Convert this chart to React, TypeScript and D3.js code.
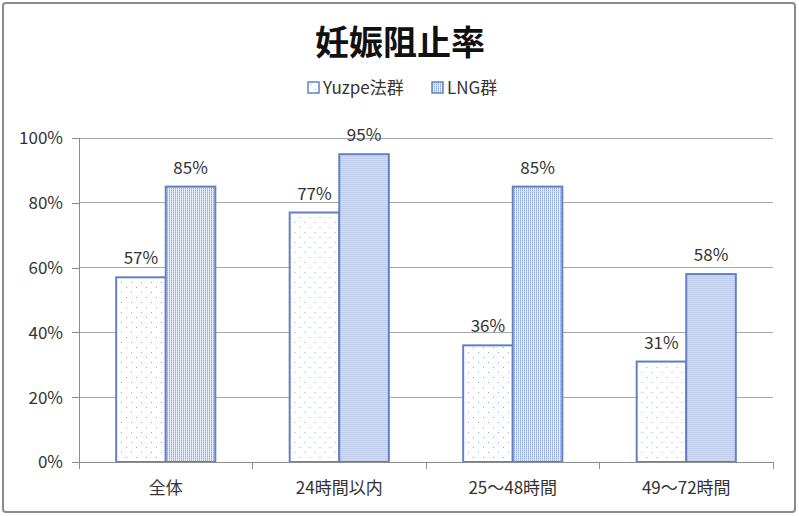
import React, { useEffect, useRef } from "react";
import * as d3 from "d3";

const categories = ["全体", "24時間以内", "25～48時間", "49～72時間"];
const seriesNames = ["Yuzpe法群", "LNG群"];
const yuzpeValues = [57, 77, 36, 31];
const lngValues = [85, 95, 85, 58];
const yTicks = [0, 20, 40, 60, 80, 100];

const FONT = "'Noto Sans CJK JP', 'Noto Sans', sans-serif";
const STROKE = "#6281c4";

const App: React.FC = () => {
  const ref = useRef<SVGSVGElement>(null);

  useEffect(() => {
    if (!ref.current) return;
    const svg = d3.select(ref.current);
    svg.selectAll("*").remove();

    const width = 799;
    const height = 516;
    const plot = { left: 79, right: 773, top: 138, bottom: 462 };

    const defs = svg.append("defs");
    // sparse dots for Yuzpe
    const p1 = defs.append("pattern").attr("id", "pat-yuzpe")
      .attr("patternUnits", "userSpaceOnUse").attr("width", 10).attr("height", 10);
    p1.append("rect").attr("width", 10).attr("height", 10).attr("fill", "#ffffff");
    p1.append("rect").attr("x", 2).attr("y", 2).attr("width", 1).attr("height", 1).attr("fill", "#8ea5d8");
    p1.append("rect").attr("x", 7).attr("y", 7).attr("width", 1).attr("height", 1).attr("fill", "#8ea5d8");
    // dense vertical stripes for LNG
    const p2 = defs.append("pattern").attr("id", "pat-lng")
      .attr("patternUnits", "userSpaceOnUse").attr("width", 2).attr("height", 2);
    p2.append("rect").attr("width", 2).attr("height", 2).attr("fill", "#e8eef8");
    p2.append("rect").attr("x", 0).attr("y", 0).attr("width", 1).attr("height", 1).attr("fill", "#95abdc");
    p2.append("rect").attr("x", 0).attr("y", 1).attr("width", 1).attr("height", 1).attr("fill", "#bccbea");

    const patterns = ["url(#pat-yuzpe)", "url(#pat-lng)"];

    // outer frame
    svg.append("rect")
      .attr("x", 3).attr("y", 3).attr("width", width - 7).attr("height", height - 7)
      .attr("rx", 3).attr("fill", "#ffffff").attr("stroke", "#8c8c8c").attr("stroke-width", 2);

    const x = d3.scaleBand<string>().domain(categories).range([plot.left, plot.right]).paddingInner(0).paddingOuter(0);
    const xSeries = d3.scaleBand<string>().domain(seriesNames).range([0, x.bandwidth()]).paddingInner(0).paddingOuter(0.75);
    const y = d3.scaleLinear().domain([0, 100]).range([plot.bottom, plot.top]);

    // gridlines
    svg.append("g").selectAll("line").data(yTicks.filter((t) => t > 0)).enter().append("line")
      .attr("x1", plot.left).attr("x2", plot.right)
      .attr("y1", (d) => y(d)).attr("y2", (d) => y(d))
      .attr("stroke", "#a8a8a8").attr("stroke-width", 1).attr("shape-rendering", "crispEdges");

    // y axis
    const yAxis = svg.append("g").attr("transform", `translate(${plot.left},0)`)
      .call(d3.axisLeft(y).tickValues(yTicks).tickSize(7).tickFormat((d) => `${d}%`));
    yAxis.select(".domain").attr("stroke", "#8c8c8c").attr("shape-rendering", "crispEdges");
    yAxis.selectAll(".tick line").attr("stroke", "#8c8c8c").attr("shape-rendering", "crispEdges");
    yAxis.selectAll(".tick text")
      .attr("x", -16).attr("dy", "0.35em")
      .style("font-family", FONT).style("font-size", "17px").attr("fill", "#333333");

    // bars
    const groups = svg.append("g").selectAll("g.cat").data(categories).enter().append("g")
      .attr("transform", (d) => `translate(${x(d)},0)`);

    const values = [yuzpeValues, lngValues];
    seriesNames.forEach((s, si) => {
      groups.append("rect")
        .attr("x", () => xSeries(s)!)
        .attr("y", (_d, i) => y(values[si][i]))
        .attr("width", xSeries.bandwidth())
        .attr("height", (_d, i) => plot.bottom - y(values[si][i]))
        .attr("fill", patterns[si])
        .attr("stroke", STROKE).attr("stroke-width", 2);

      groups.append("text")
        .attr("x", xSeries(s)! + xSeries.bandwidth() / 2)
        .attr("y", (_d, i) => y(values[si][i]) - 13)
        .attr("text-anchor", "middle")
        .style("font-family", FONT).style("font-size", "17px").attr("fill", "#333333")
        .text((_d, i) => `${values[si][i]}%`);
    });

    // x axis
    const xAxis = svg.append("g").attr("transform", `translate(0,${plot.bottom})`)
      .call(d3.axisBottom(x).tickSize(0).tickPadding(0));
    xAxis.select(".domain").attr("stroke", "#8c8c8c").attr("shape-rendering", "crispEdges");
    xAxis.selectAll(".tick text")
      .attr("y", 32).attr("dy", 0)
      .style("font-family", FONT).style("font-size", "17px").attr("fill", "#333333");
    // category boundary ticks
    svg.append("g").selectAll("line").data(categories.map((c) => x(c)!).concat([plot.right])).enter().append("line")
      .attr("x1", (d) => d).attr("x2", (d) => d)
      .attr("y1", plot.bottom).attr("y2", plot.bottom + 7)
      .attr("stroke", "#8c8c8c").attr("shape-rendering", "crispEdges");

    // title
    svg.append("text")
      .attr("x", 400).attr("y", 55)
      .attr("text-anchor", "middle")
      .style("font-family", FONT).style("font-size", "34px").style("font-weight", "bold")
      .attr("fill", "#111111")
      .text("妊娠阻止率");

    // legend
    const legendX = [308, 432];
    const legend = svg.append("g").selectAll("g").data(seriesNames).enter().append("g")
      .attr("transform", (_d, i) => `translate(${legendX[i]},82)`);
    legend.append("rect").attr("width", 11).attr("height", 11)
      .attr("fill", (_d, i) => patterns[i]).attr("stroke", STROKE).attr("stroke-width", 1.5);
    legend.append("text").attr("x", 15).attr("y", 12)
      .style("font-family", FONT).style("font-size", "17px").attr("fill", "#333333")
      .text((d) => d);
  }, []);

  return (
    <svg
      ref={ref}
      width={799}
      height={516}
      style={{ position: "absolute", left: 0, top: 0 }}
    />
  );
};

export default App;
